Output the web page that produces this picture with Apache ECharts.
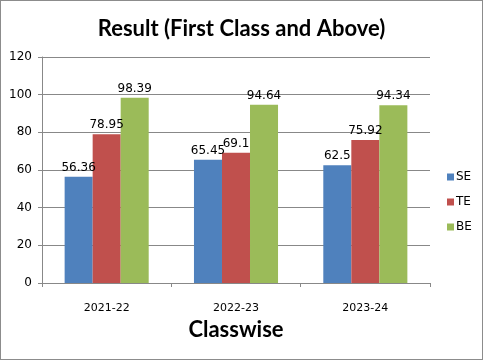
<!DOCTYPE html>
<html><head><meta charset="utf-8">
<script src="https://cdn.jsdelivr.net/npm/echarts@6/dist/echarts.min.js"></script>
<style>html,body{margin:0;padding:0;background:#fff}#c{width:483px;height:360px;box-sizing:border-box;border:1px solid #8c8c8c}</style>
</head><body><div id="c"></div>
<script>
const categories = ['2021-22', '2022-23', '2023-24'];
const seriesNames = ['SE', 'TE', 'BE'];
const seValues = [56.36, 65.45, 62.5];
const teValues = [78.95, 69.1, 75.92];
const beValues = [98.39, 94.64, 94.34];
const yTicks = [0, 20, 40, 60, 80, 100, 120];
const colors = ['#4F81BD', '#C0504D', '#9BBB59'];
const tickFont = 'DejaVu Sans';
const titleFont = 'Lato';
const chart = echarts.init(document.getElementById('c'), null, {renderer: 'canvas'});
const vals = [seValues, teValues, beValues];
chart.setOption({
  animation: false,
  title: {text: 'Result (First Class and Above)', left: 'center', top: 12,
    textStyle: {fontFamily: titleFont, fontWeight: 'bold', fontSize: 22, color: '#000'}},
  legend: {orient: 'vertical', left: 441, top: 165, itemGap: 13, itemWidth: 7, itemHeight: 7,
    icon: 'rect', data: seriesNames,
    textStyle: {fontFamily: tickFont, fontSize: 12, color: '#000', padding: [0, 0, 0, -3]}},
  grid: {left: 41, right: 52, top: 56, bottom: 76, containLabel: false},
  xAxis: {type: 'category', data: categories, name: 'Classwise', nameLocation: 'middle', nameGap: 34,
    nameTextStyle: {fontFamily: titleFont, fontWeight: 'bold', fontSize: 22, color: '#000'},
    axisLine: {lineStyle: {color: '#888'}}, axisTick: {show: true, length: 4, lineStyle: {color: '#888'}},
    axisLabel: {fontFamily: tickFont, fontSize: 11, color: '#000', margin: 20}},
  yAxis: {type: 'value', min: yTicks[0], max: yTicks[yTicks.length - 1], interval: 20,
    axisLine: {show: true, lineStyle: {color: '#888'}}, axisTick: {show: true, length: 4, lineStyle: {color: '#888'}},
    splitLine: {lineStyle: {color: '#888'}},
    axisLabel: {fontFamily: tickFont, fontSize: 12, color: '#000', margin: 10}},
  series: seriesNames.map((n, i) => ({
    name: n, type: 'bar', data: vals[i], barGap: '0%', barCategoryGap: '35%',
    itemStyle: {color: colors[i]},
    label: {show: true, position: 'top', distance: 3, fontFamily: tickFont, fontSize: 12, color: '#000'}
  }))
});
</script></body></html>
